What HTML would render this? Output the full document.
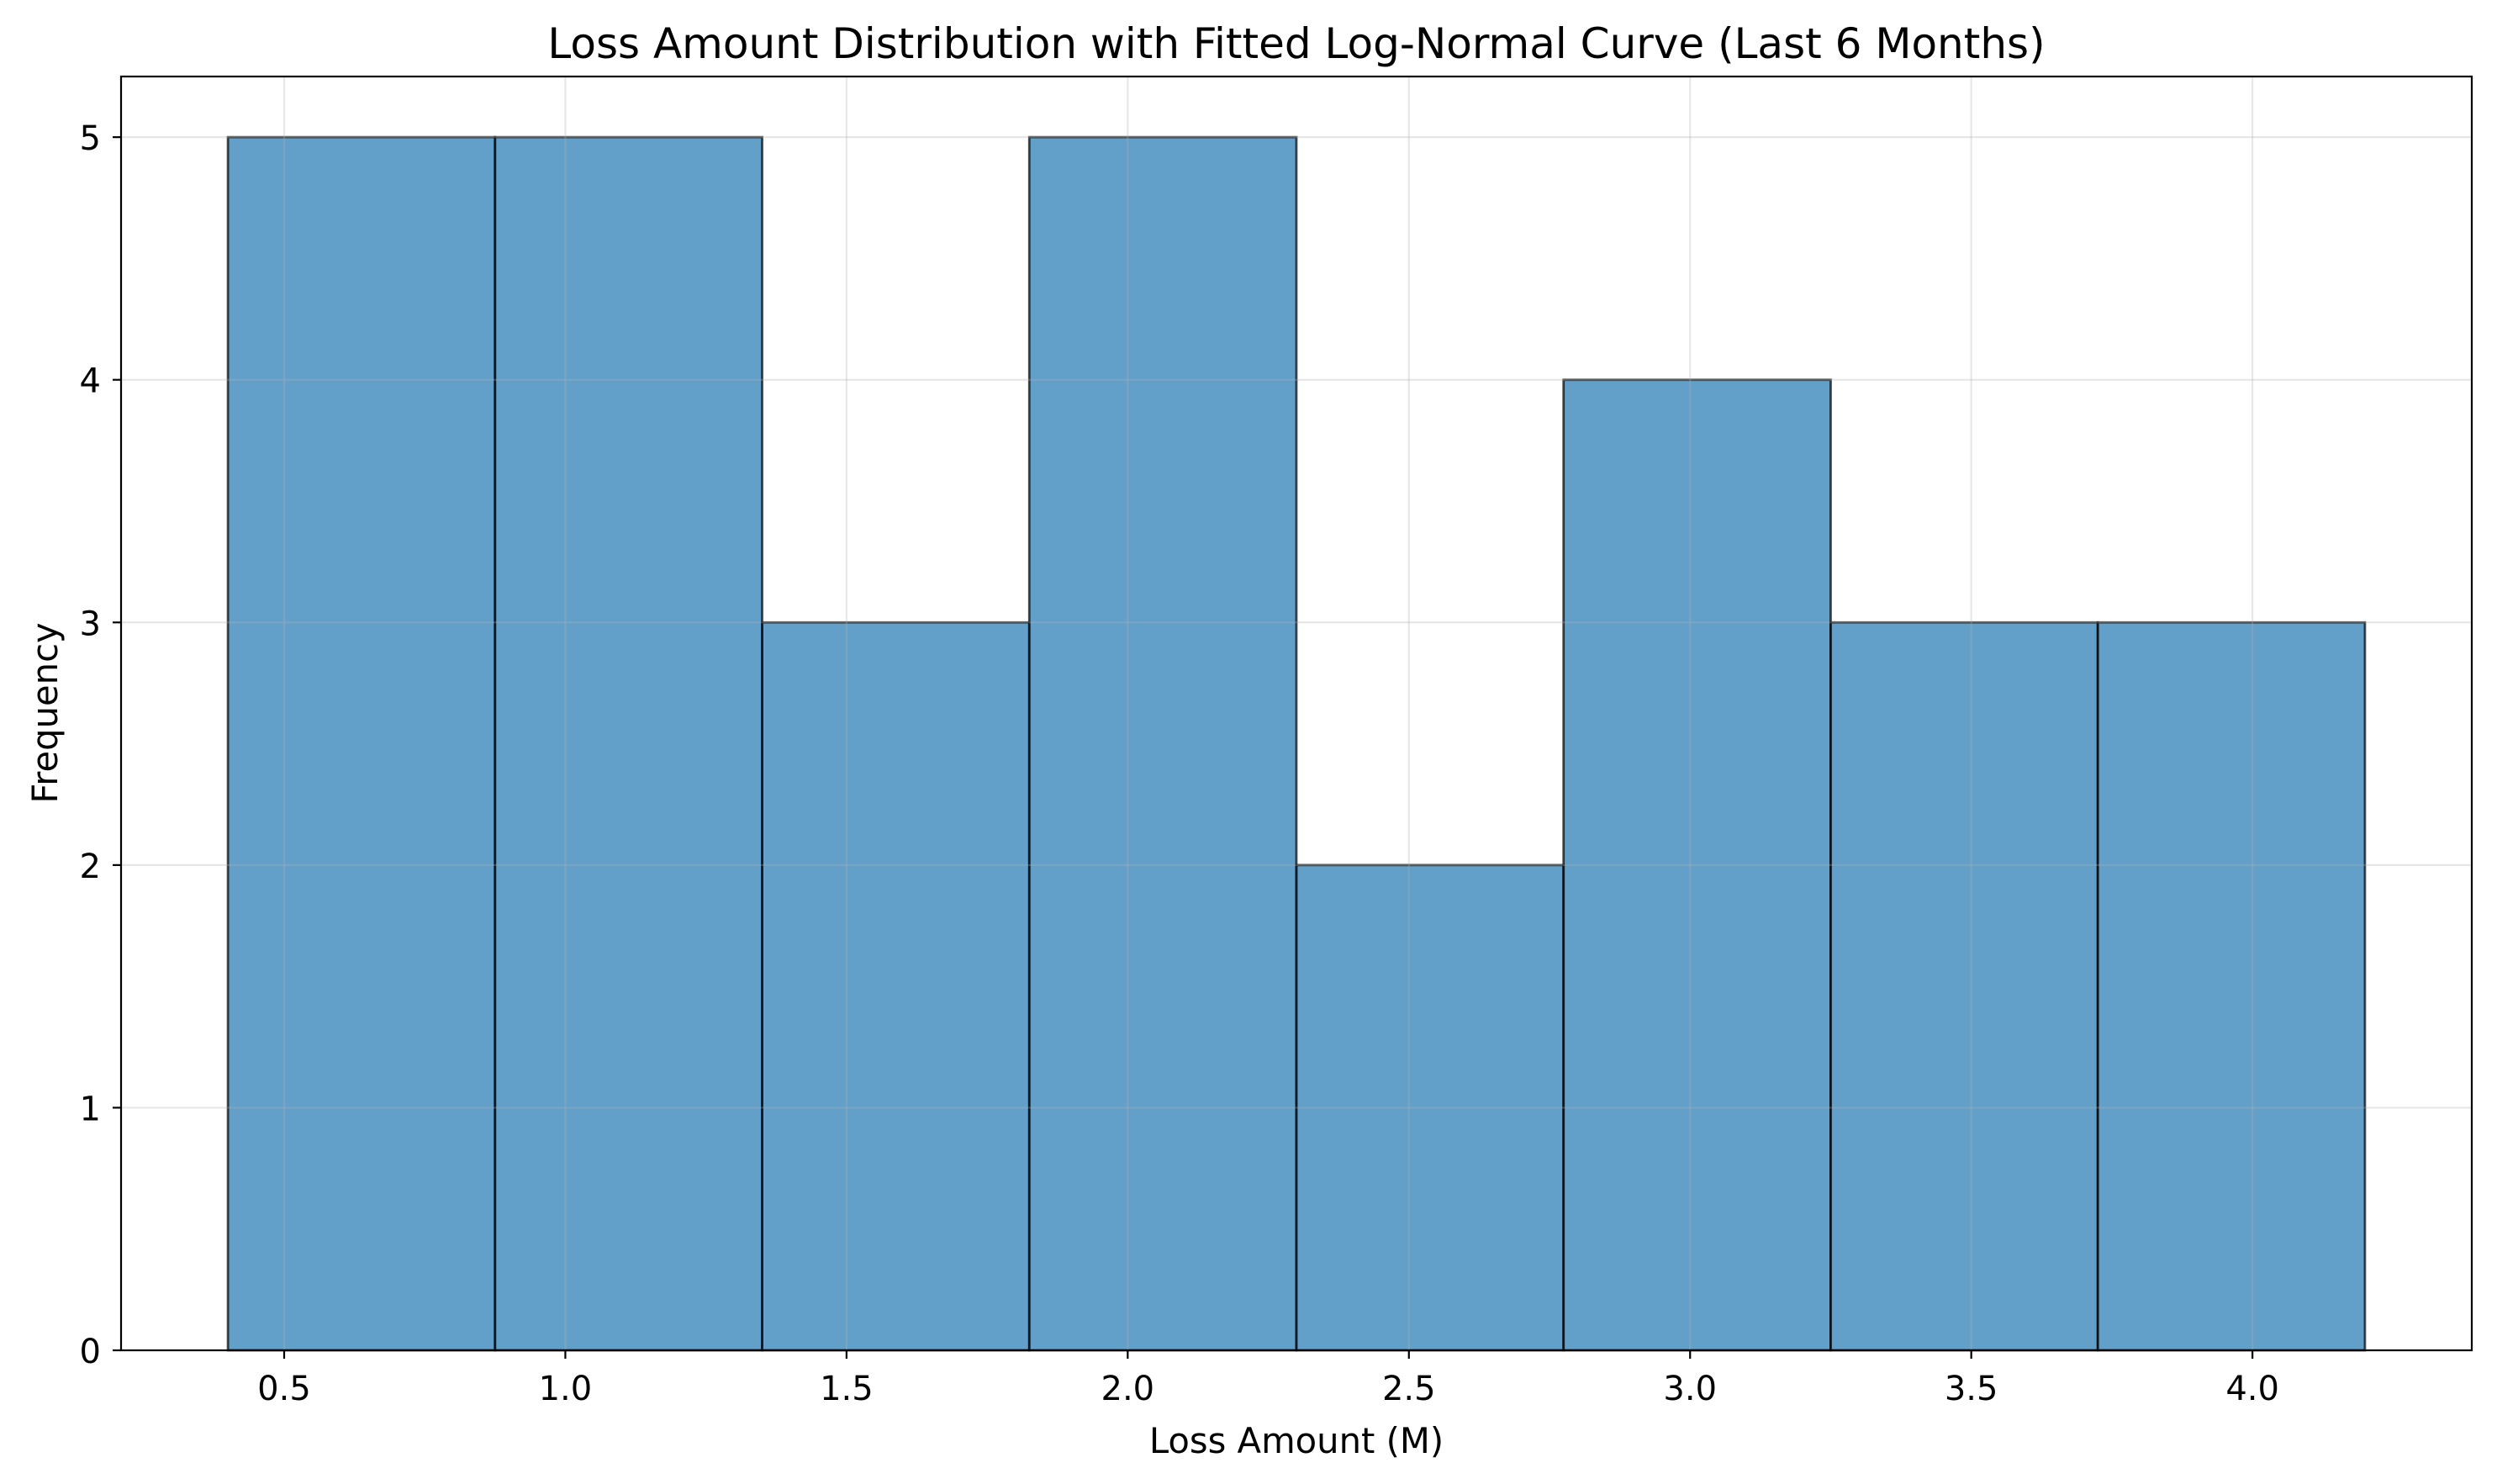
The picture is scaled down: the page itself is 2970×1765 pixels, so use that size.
<!DOCTYPE html>
<html><head><meta charset="utf-8"><style>
html,body{margin:0;padding:0;background:#fff;}
svg{display:block;font-family:"DejaVu Sans","Liberation Sans",sans-serif;}
</style></head><body>
<svg id="chart" width="2970" height="1765" viewBox="0 0 2970 1765">
<rect width="2970" height="1765" fill="#fff"/>
<g id="bars"></g>
<g id="grid"></g>
<g id="axes"></g>
<text x="1542" y="69" font-size="50" text-anchor="middle" fill="#000">Loss Amount Distribution with Fitted Log-Normal Curve (Last 6 Months)</text>
<text x="1542" y="1728" font-size="41.7" text-anchor="middle" fill="#000">Loss Amount (M)</text>
<text x="0" y="0" font-size="41.7" text-anchor="middle" fill="#000" transform="translate(68,848) rotate(-90)">Frequency</text>
</svg>
<script>
const binStart = 0.4;
const binWidth = 0.475;
const counts = [5, 5, 3, 5, 2, 4, 3, 3];
const xTicks = [0.5, 1.0, 1.5, 2.0, 2.5, 3.0, 3.5, 4.0];
const xTickLabels = ["0.5", "1.0", "1.5", "2.0", "2.5", "3.0", "3.5", "4.0"];
const yTicks = [0, 1, 2, 3, 4, 5];

const L = 144, R = 2940, T = 91, B = 1606;
const nBins = counts.length;
const xMinD = binStart, xMaxD = binStart + nBins * binWidth;
const xPad = (xMaxD - xMinD) * 0.05;
const xmin = xMinD - xPad, xmax = xMaxD + xPad;
const ymax = Math.max(...counts) * 1.05;
const sx = v => L + (v - xmin) / (xmax - xmin) * (R - L);
const sy = v => B - v / ymax * (B - T);
const NS = "http://www.w3.org/2000/svg";
function mk(tag, attrs, parent) {
  const e = document.createElementNS(NS, tag);
  for (const k in attrs) e.setAttribute(k, attrs[k]);
  parent.appendChild(e);
  return e;
}
const grid = document.getElementById('grid');
const bars = document.getElementById('bars');
const axes = document.getElementById('axes');

counts.forEach((c, i) => {
  const x0 = sx(binStart + i * binWidth), x1 = sx(binStart + (i + 1) * binWidth);
  const r = mk('rect', {x: x0, y: sy(c), width: x1 - x0, height: B - sy(c), fill: '#1f77b4', 'fill-opacity': 0.7, stroke: '#000', 'stroke-opacity': 0.7, 'stroke-width': 2.8}, bars);
  
  
});

xTicks.forEach(v => {
  const l = mk('line', {x1: sx(v), x2: sx(v), y1: T, y2: B, stroke: '#b0b0b0', 'stroke-opacity': 0.3, 'stroke-width': 2.2}, grid);
  
  
});
yTicks.forEach(v => {
  const l = mk('line', {x1: L, x2: R, y1: sy(v), y2: sy(v), stroke: '#b0b0b0', 'stroke-opacity': 0.3, 'stroke-width': 2.2}, grid);
  
  
});

const frame = mk('rect', {x: L, y: T, width: R - L, height: B - T, fill: 'none', stroke: '#000', 'stroke-width': 2.2}, axes);



xTicks.forEach((v, i) => {
  const t = mk('line', {x1: sx(v), x2: sx(v), y1: B, y2: B + 10, stroke: '#000', 'stroke-width': 2.2}, axes);
  
  
  const tx = mk('text', {x: sx(v), y: B + 59, 'font-size': 40, 'text-anchor': 'middle', fill: '#000'}, axes);
  tx.textContent = xTickLabels[i];
  
  
});
yTicks.forEach(v => {
  const t = mk('line', {x1: L - 10, x2: L, y1: sy(v), y2: sy(v), stroke: '#000', 'stroke-width': 2.2}, axes);
  
  
  const tx = mk('text', {x: L - 24, y: sy(v) + 15, 'font-size': 40, 'text-anchor': 'end', fill: '#000'}, axes);
  tx.textContent = String(v);
  
  
});
</script>
</body></html>
